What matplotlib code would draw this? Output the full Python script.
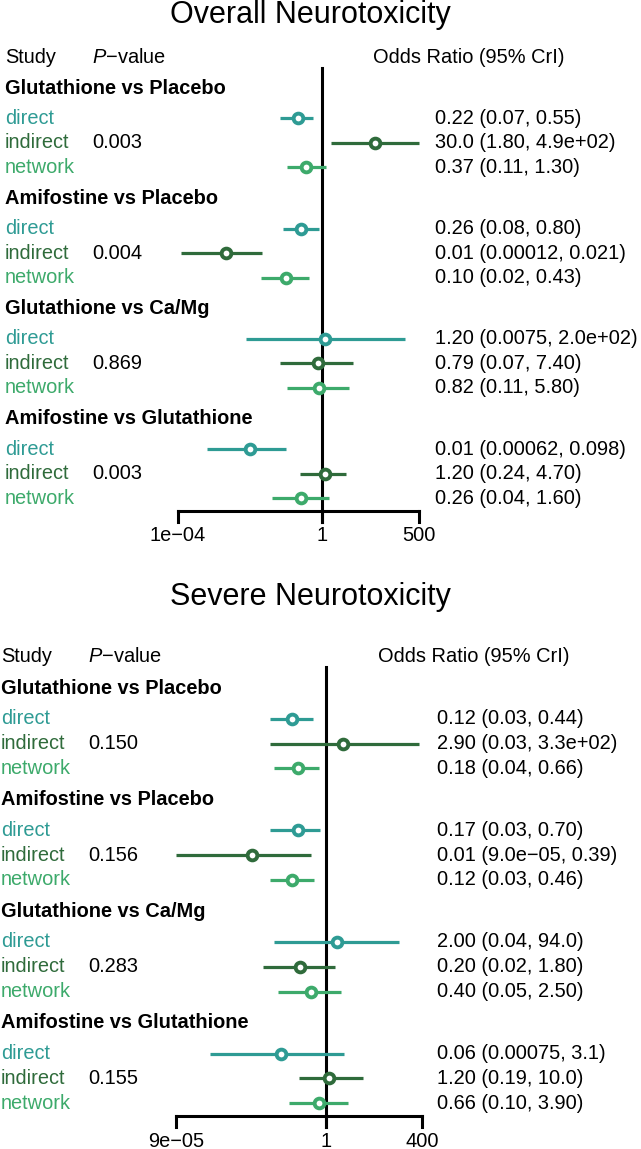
import matplotlib
matplotlib.use("Agg")
import matplotlib.pyplot as plt

plt.rcParams['font.family'] = ['Liberation Sans', 'DejaVu Sans']
plt.rcParams['mathtext.fontset'] = 'custom'
plt.rcParams['mathtext.it'] = 'Liberation Sans:italic'
plt.rcParams['mathtext.rm'] = 'Liberation Sans'

W, H = 641, 1149

# ---- data -------------------------------------------------------------
comparisons = ["Glutathione vs Placebo", "Amifostine vs Placebo",
               "Glutathione vs Ca/Mg", "Amifostine vs Glutathione"]
kinds = ["direct", "indirect", "network"]

# Overall neurotoxicity: [direct, indirect, network] per comparison
overall_est = [[0.22, 30.0, 0.37], [0.26, 0.0021, 0.10],
               [1.20, 0.79, 0.82], [0.01, 1.20, 0.26]]
overall_lo = [[0.07, 1.80, 0.11], [0.08, 0.00012, 0.02],
              [0.0075, 0.07, 0.11], [0.00062, 0.24, 0.04]]
overall_hi = [[0.55, 490, 1.30], [0.80, 0.021, 0.43],
              [200, 7.40, 5.80], [0.098, 4.70, 1.60]]
overall_lab = [["0.22 (0.07, 0.55)", "30.0 (1.80, 4.9e+02)", "0.37 (0.11, 1.30)"],
               ["0.26 (0.08, 0.80)", "0.01 (0.00012, 0.021)", "0.10 (0.02, 0.43)"],
               ["1.20 (0.0075, 2.0e+02)", "0.79 (0.07, 7.40)", "0.82 (0.11, 5.80)"],
               ["0.01 (0.00062, 0.098)", "1.20 (0.24, 4.70)", "0.26 (0.04, 1.60)"]]
overall_p = ["0.003", "0.004", "0.869", "0.003"]
overall_ticks = [1e-4, 1, 500]
overall_ticklabels = ["1e\u221204", "1", "500"]

# Severe neurotoxicity
severe_est = [[0.12, 2.90, 0.18], [0.17, 0.01, 0.12],
              [2.00, 0.20, 0.40], [0.06, 1.20, 0.66]]
severe_lo = [[0.03, 0.03, 0.04], [0.03, 9.0e-05, 0.03],
             [0.04, 0.02, 0.05], [0.00075, 0.19, 0.10]]
severe_hi = [[0.44, 330, 0.66], [0.70, 0.39, 0.46],
             [94.0, 1.80, 2.50], [3.1, 10.0, 3.90]]
severe_lab = [["0.12 (0.03, 0.44)", "2.90 (0.03, 3.3e+02)", "0.18 (0.04, 0.66)"],
              ["0.17 (0.03, 0.70)", "0.01 (9.0e\u221205, 0.39)", "0.12 (0.03, 0.46)"],
              ["2.00 (0.04, 94.0)", "0.20 (0.02, 1.80)", "0.40 (0.05, 2.50)"],
              ["0.06 (0.00075, 3.1)", "1.20 (0.19, 10.0)", "0.66 (0.10, 3.90)"]]
severe_p = ["0.150", "0.156", "0.283", "0.155"]
severe_ticks = [9e-05, 1, 400]
severe_ticklabels = ["9e\u221205", "1", "400"]

colors = {"direct": "#2E9B94", "indirect": "#2F6B3B", "network": "#3DAA6B"}
FS = 14.4

fig = plt.figure(figsize=(W / 100, H / 100), dpi=100)


def panel(title, title_px, p0, u, c, k, est, lo, hi, labs, pvals, ticks, ticklabels,
          x_study, x_p, x_or, x_val):
    # p0: pixel row of first group header, u: pixels per row, c: pixel of OR=1, k: px per decade
    ax = fig.add_axes([0, 0, 1, 1])
    ax.set_axis_off()
    ax.set_xscale('log')
    ax.set_xlim(10 ** (-c / k), 10 ** ((W - c) / k))
    ax.set_ylim((H - p0) / u, -p0 / u)
    tr = ax.get_yaxis_transform()

    fig.text(310 / W, 1 - title_px / H, title, ha='center', va='center', fontsize=22)

    yh = -1.25
    ax.text(x_study / W, yh, "Study", transform=tr, ha='left', va='center', fontsize=FS)
    ax.text(x_p / W, yh, "$P$\u2212value", transform=tr,
            ha='left', va='center', fontsize=FS)
    ax.text(x_or / W, yh, "Odds Ratio (95% CrI)", transform=tr, ha='left', va='center',
            fontsize=FS)

    last = 0
    for g, name in enumerate(comparisons):
        y0 = g * 4.5
        ax.text(x_study / W, y0, name, transform=tr, ha='left', va='center',
                fontsize=FS, fontweight='bold')
        for i, kind in enumerate(kinds):
            y = y0 + 1.24 + i
            col = colors[kind]
            ax.plot([lo[g][i], hi[g][i]], [y, y], color=col, lw=2.3,
                    solid_capstyle='butt', zorder=3)
            ax.plot([est[g][i]], [y], 'o', mfc='white', mec=col, ms=7.0, mew=2.8, zorder=4)
            ax.text(x_study / W, y, kind, transform=tr, ha='left', va='center',
                    fontsize=FS, color=col)
            ax.text(x_val / W, y, labs[g][i], transform=tr, ha='left', va='center',
                    fontsize=FS)
            last = y
        ax.text(x_p / W, y0 + 2.24, pvals[g], transform=tr, ha='left', va='center',
                fontsize=FS)

    ya = last + 0.53
    tick_len = 0.45
    ax.plot([1, 1], [-0.83, ya + tick_len], color='black', lw=2.2, zorder=2)
    ax.plot([ticks[0], ticks[-1]], [ya, ya], color='black', lw=2.2,
            solid_capstyle='projecting')
    for t, tl in zip(ticks, ticklabels):
        ax.plot([t, t], [ya, ya + tick_len], color='black', lw=2.2)
        ax.text(t, ya + 1.0, tl, ha='center', va='center', fontsize=FS)


panel("Overall Neurotoxicity", 15, 88, 24.5, 322, 36,
      overall_est, overall_lo, overall_hi, overall_lab, overall_p,
      overall_ticks, overall_ticklabels, 5, 92, 373, 435)
panel("Severe Neurotoxicity", 597, 688, 24.8, 326, 37,
      severe_est, severe_lo, severe_hi, severe_lab, severe_p,
      severe_ticks, severe_ticklabels, 1, 88, 378, 437)

fig.savefig("out.png", dpi=100, facecolor='white')
